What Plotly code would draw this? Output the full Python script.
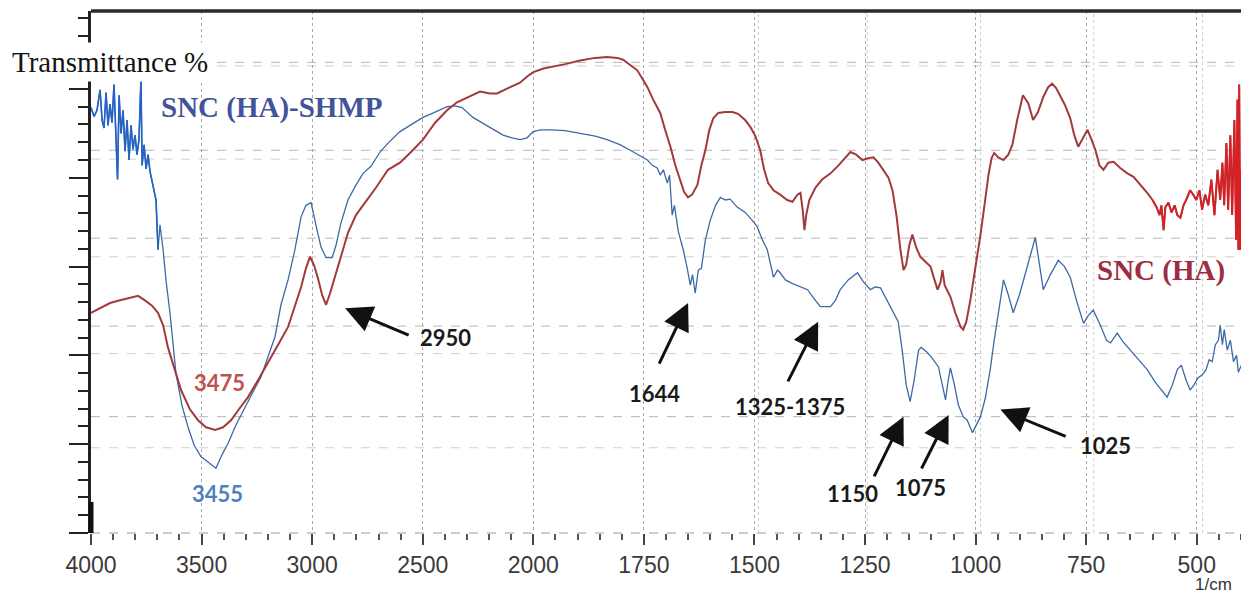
import numpy as np
import plotly.graph_objects as go

# FTIR spectra, transmittance (arbitrary %-scale) vs wavenumber (1/cm)
blue_wn = [4000, 3986, 3973, 3959, 3950, 3941, 3932, 3923, 3914, 3905, 3896, 3887, 3880, 3873,
           3864, 3855, 3846, 3837, 3828, 3819, 3810, 3801, 3792, 3783, 3774, 3769, 3760, 3751,
           3742, 3733, 3720, 3706, 3697, 3688, 3674, 3661, 3643, 3629, 3616, 3589, 3561, 3534,
           3503, 3471, 3435, 3408, 3380, 3344, 3304, 3267, 3231, 3200, 3168, 3141, 3109, 3078,
           3050, 3028, 3005, 2983, 2960, 2937, 2910, 2892, 2870, 2838, 2806, 2770, 2734, 2693,
           2657, 2603, 2548, 2499, 2444, 2390, 2354, 2322, 2273, 2232, 2196, 2137, 2096, 2060,
           2028, 2001,
           1984, 1962, 1928, 1894, 1860, 1833, 1803, 1781, 1758, 1742, 1731, 1720, 1713, 1706,
           1697, 1692, 1686, 1681, 1672, 1661, 1652, 1645, 1640, 1634, 1627, 1620, 1611, 1600,
           1588, 1577, 1566, 1555, 1539, 1521, 1505, 1494, 1482, 1471, 1457, 1448, 1442, 1430,
           1419, 1396, 1380, 1367, 1351, 1328, 1317, 1306, 1288, 1267, 1254, 1238, 1227, 1215,
           1204, 1193, 1181, 1175, 1166, 1157, 1148, 1139, 1129, 1123, 1111, 1100, 1084, 1075,
           1068, 1062, 1057, 1048, 1039, 1028, 1019, 1007, 998, 989, 978, 967, 958, 951, 944,
           937, 926, 915, 901, 888, 876, 865, 856, 847, 831, 813, 799, 786, 772, 756, 745, 734,
           718, 704, 695, 680, 666, 650, 632, 612, 594, 580, 567, 555, 544, 535, 524, 515, 506,
           497, 488, 479, 472, 465, 458, 451, 447, 442, 438, 431, 424, 417, 410, 406, 399]
blue_t = [47.9, 46.9, 47.6, 49.9, 46.5, 45.6, 49.6, 45.9, 48.3, 46.2, 50.5, 44.3, 39.8, 49.3,
          45.0, 47.6, 43.0, 46.5, 42.0, 45.9, 43.2, 44.8, 42.6, 44.3, 51.2, 41.4, 43.7, 41.0,
          42.6, 40.7, 39.2, 37.5, 31.9, 34.7, 31.9, 28.5, 24.8, 21.2, 18.0, 14.4, 11.9, 9.9,
          8.6, 8.0, 7.3, 8.8, 10.1, 12.2, 14.2, 15.9, 17.6, 19.8, 22.1, 25.7, 28.5, 31.9,
          35.6, 36.9, 37.2, 34.7, 32.2, 31.0, 31.0, 32.4, 34.9, 37.5, 39.0, 40.5, 41.3, 42.9,
          43.9, 45.2, 46.1, 46.8, 47.4, 48.0, 48.1, 47.9, 46.8, 46.2, 45.7, 44.8, 44.5, 44.3,
          44.5, 45.2,
          45.4, 45.4, 45.3, 45.0, 44.7, 44.3, 43.7, 43.1, 42.5, 42.0, 41.4, 41.1, 40.3, 40.9,
          39.4, 40.3, 35.8, 36.9, 33.9, 31.9, 29.8, 27.9, 29.1, 27.0, 29.6, 29.8, 33.0, 35.2,
          36.9, 37.8, 37.5, 37.6, 36.7, 36.1, 35.2, 34.5, 33.0, 31.9, 28.8, 29.6, 29.3, 28.5,
          28.2, 27.7, 27.4, 26.5, 25.5, 25.5, 26.2, 27.4, 28.5, 29.3, 28.3, 27.4, 27.7, 27.6,
          26.6, 25.5, 24.5, 23.8, 20.6, 16.7, 14.8, 17.2, 20.6, 20.9, 20.4, 19.8, 18.7, 16.7,
          15.0, 17.2, 18.6, 16.7, 14.4, 13.1, 12.7, 11.3, 12.2, 13.1, 15.2, 18.4, 21.7, 24.0, 26.5,
          28.5, 26.8, 24.8, 26.8, 29.3, 31.3, 33.3, 30.5, 27.4, 29.1, 30.7, 30.0, 28.8, 26.2, 23.6, 24.5, 25.1,
          23.4, 21.7, 21.4, 22.5, 21.5, 20.6, 19.5, 18.4, 17.0, 16.1, 15.3, 16.7, 18.4, 18.9, 17.2, 16.1, 16.7,
          17.5, 17.8, 18.4, 19.5, 19.3, 21.2, 21.7, 23.4, 21.2, 22.9, 20.6, 21.7, 19.3, 20.0, 18.1, 18.9]

red_wn = [4000, 3959, 3914, 3869, 3824, 3787, 3756, 3724, 3697, 3674, 3652, 3620, 3593, 3552,
          3516, 3480, 3439, 3403, 3367, 3326, 3290, 3245, 3200, 3154, 3109, 3078, 3050, 3028,
          3010, 2992, 2974, 2955, 2937, 2919, 2897, 2870, 2838, 2802, 2761, 2711, 2657, 2603,
          2553, 2499, 2444, 2390, 2345, 2300, 2241, 2196, 2164, 2114, 2060, 2028, 2000,
          1977, 1955, 1928, 1894, 1860, 1833, 1810, 1797, 1781, 1765, 1754, 1742, 1729, 1713,
          1702, 1690, 1679, 1668, 1659, 1650, 1641, 1629, 1620, 1611, 1602, 1593, 1582, 1566,
          1550, 1537, 1521, 1509, 1498, 1487, 1478, 1469, 1457, 1442, 1426, 1414, 1403, 1396,
          1391, 1387, 1383, 1376, 1362, 1347, 1328, 1310, 1295, 1283, 1270, 1256, 1243, 1231,
          1220, 1209, 1197, 1188, 1179, 1170, 1163, 1157, 1150, 1143, 1134, 1125, 1113, 1102,
          1093, 1086, 1079, 1075, 1070, 1063, 1057, 1046, 1034, 1028, 1021, 1012, 1001, 989,
          980, 971, 964, 958, 949, 937, 926, 917, 906, 893, 881, 870, 859, 847, 836, 827, 818,
          809, 798, 786, 777, 768, 756, 747, 738, 729, 720, 711, 700, 688, 673, 657, 643, 627,
          612, 600, 591, 584, 580, 575, 571, 564, 557, 550, 544, 537, 530, 524, 515, 508, 501,
          494, 488, 481, 474, 467, 460, 453, 447, 442, 438, 433, 429, 424, 420, 415, 411, 408,
          406, 404, 402, 399]
red_t = [24.8, 25.3, 25.9, 26.2, 26.5, 26.7, 26.2, 25.6, 24.8, 23.4, 20.9, 18.4, 16.1, 13.9,
         12.7, 11.9, 11.6, 11.9, 12.7, 14.1, 15.3, 17.2, 19.1, 21.2, 23.2, 25.7, 27.7, 29.8,
         31.1, 30.2, 28.7, 26.8, 25.7, 27.0, 28.8, 31.3, 33.8, 35.8, 37.2, 38.9, 40.9, 41.7,
         42.9, 44.3, 46.2, 47.6, 48.5, 49.0, 49.7, 49.5, 49.5, 50.1, 50.7, 51.4, 51.9,
         52.3, 52.5, 52.8, 53.2, 53.5, 53.6, 53.5, 53.3, 52.7, 52.1, 51.2, 50.2, 48.8, 47.3,
         45.4, 43.5, 41.4, 39.8, 38.4, 37.8, 38.1, 39.2, 41.4, 43.1, 45.4, 46.7, 47.3, 47.4,
         47.4, 47.2, 46.5, 45.7, 44.7, 43.1, 40.9, 39.4, 38.6, 38.1, 37.5, 37.3, 38.1, 38.3,
         36.4, 34.1, 35.8, 37.5, 38.9, 39.8, 40.5, 41.4, 42.3, 42.9, 42.6, 42.0, 42.2, 42.3,
         41.7, 40.9, 40.0, 38.6, 35.8, 31.9, 29.6, 30.2, 32.4, 33.6, 32.1, 31.1, 30.5, 30.0,
         28.5, 27.4, 28.3, 29.6, 27.9, 27.1, 26.6, 24.8, 23.2, 22.9, 23.8, 26.2, 29.6, 33.6,
         36.9, 40.3, 42.2, 42.8, 42.3, 42.0, 42.6, 43.7, 46.5, 49.3, 48.4, 46.5, 47.4, 49.1, 50.2, 50.6, 50.1,
         49.3, 48.2, 46.7, 44.8, 43.5, 44.5, 45.4, 44.3, 43.1, 41.4, 40.9, 41.7, 41.8, 41.1, 40.5, 40.1, 39.2,
         38.3, 37.5, 36.7, 35.8, 36.9, 34.1, 36.7, 37.2, 36.1, 36.9, 35.8, 35.5, 36.9, 37.5, 38.6, 38.1, 37.5,
         38.6, 36.4, 38.1, 36.9, 39.8, 35.8, 40.9, 37.5, 41.7, 36.9, 43.9, 36.4, 44.8, 35.8, 46.5, 33.0, 48.8,
         31.9, 50.5, 31.9, 40.9]

tick_wn = [4000, 3500, 3000, 2500, 2000, 1750, 1500, 1250, 1000, 750, 500]

# peak labels: (text, x, y, colour) and arrows: (tip_wn, tip_t, tail_wn, tail_t)
peak_labels = [("3475", 3421, 17.0, "#c0504d"), ("3455", 3430, 4.4, "#4f81bd"),
               ("2950", 2399, 22.0, "#1a1a1a"), ("1644", 1726, 15.7, "#1a1a1a"),
               ("1325-1375", 1419, 14.3, "#1a1a1a"), ("1150", 1278, 4.5, "#1a1a1a"),
               ("1075", 1124, 5.1, "#1a1a1a"), ("1025", 707, 9.9, "#1a1a1a")]
arrows = [(2851, 25.3, 2557, 22.2), (1650, 25.9, 1717, 18.9), (1356, 23.8, 1426, 16.9),
          (1163, 13.1, 1231, 6.2), (1061, 13.3, 1124, 7.1), (944, 13.9, 793, 10.8)]


def to_axis(wn):
    """Split wavenumber scale: 4000-2000 compressed 2x, 2000-400 at full scale."""
    wn = np.asarray(wn, dtype=float)
    return np.where(wn >= 2000, (4000 - wn) / 2.0, 1000 + (2000 - wn))


fig = go.Figure()
bw, bt = np.array(blue_wn), np.array(blue_t)
rw, rt = np.array(red_wn), np.array(red_t)

fig.add_trace(go.Scatter(x=to_axis(bw), y=bt, mode="lines",
                         line=dict(color="#3d6aa3", width=1.3), showlegend=False))
noisy = bw >= 3690
fig.add_trace(go.Scatter(x=to_axis(bw[noisy]), y=bt[noisy], mode="lines",
                         line=dict(color="#2463c4", width=1.6), showlegend=False))
fig.add_trace(go.Scatter(x=to_axis(rw), y=rt, mode="lines",
                         line=dict(color="#a33a3a", width=2), showlegend=False))
tail = rw <= 600
fig.add_trace(go.Scatter(x=to_axis(rw[tail]), y=rt[tail], mode="lines",
                         line=dict(color="#d91f24", width=1.6), showlegend=False))

shapes = []
# horizontal dashed grid (two offset sets)
for yv in [53.0, 43.1, 33.2, 23.3, 13.1]:
    shapes.append(dict(type="line", xref="paper", x0=0, x1=1, yref="y", y0=yv, y1=yv,
                       line=dict(color="#b5b5b5", width=1, dash="dash"), layer="below"))
for yv in [52.6, 42.1, 31.1, 20.2, 9.6]:
    shapes.append(dict(type="line", xref="paper", x0=0, x1=1, yref="y", y0=yv, y1=yv,
                       line=dict(color="#d0d0d0", width=1, dash="dash"), layer="below"))
for wv in [1491, 1245, 989, 733, 487]:
    xv = float(to_axis(wv))
    shapes.append(dict(type="line", xref="x", x0=xv, x1=xv, yref="paper", y0=0, y1=1,
                       line=dict(color="#cccccc", width=1, dash="dot"), layer="below"))
# bottom dashed baseline, heavy top frame and the thick foot of the left axis
shapes.append(dict(type="line", xref="paper", x0=0, x1=1, yref="paper", y0=0, y1=0,
                   line=dict(color="#bdbdbd", width=1.5, dash="dash"), layer="below"))
shapes.append(dict(type="line", xref="paper", x0=0, x1=1, yref="paper", y0=1, y1=1,
                   line=dict(color="#2a2a2a", width=3.5)))
shapes.append(dict(type="line", xref="paper", x0=0, x1=0, yref="y", y0=0, y1=3.5,
                   line=dict(color="#111111", width=5)))

annotations = []
annotations.append(dict(text="Transmittance %", xref="paper", yref="y", x=-0.072, y=53.0,
                        xanchor="left", yanchor="middle", showarrow=False, bgcolor="white",
                        borderpad=3,
                        font=dict(family="Liberation Serif", size=29, color="#141414")))
annotations.append(dict(text="<b>SNC (HA)-SHMP</b>", x=float(to_axis(3181)), y=47.9,
                        xref="x", yref="y", showarrow=False,
                        font=dict(family="Liberation Serif", size=29, color="#43539b")))
annotations.append(dict(text="<b>SNC (HA)</b>", x=float(to_axis(582)), y=29.6,
                        xref="x", yref="y", showarrow=False,
                        font=dict(family="Liberation Serif", size=29, color="#9d2c44")))
for txt, wv, tv, col in peak_labels:
    annotations.append(dict(text=f"<b>{txt}</b>", x=float(to_axis(wv)), y=tv, xref="x", yref="y",
                            showarrow=False, font=dict(family="Lato", size=22, color=col)))
for tw, tt, aw, at in arrows:
    annotations.append(dict(text="", x=float(to_axis(tw)), y=tt, ax=float(to_axis(aw)), ay=at,
                            xref="x", yref="y", axref="x", ayref="y", showarrow=True,
                            arrowhead=2, arrowsize=1.8, arrowwidth=3, arrowcolor="#111111"))
annotations.append(dict(text="1/cm", xref="paper", yref="paper", x=0.994, y=-0.098,
                        xanchor="right", yanchor="middle", showarrow=False,
                        font=dict(family="Liberation Sans", size=17, color="#333333")))

fig.update_layout(
    width=1241, height=596,
    margin=dict(l=91, r=0, t=11, b=63),
    paper_bgcolor="white", plot_bgcolor="white",
    shapes=shapes, annotations=annotations,
    xaxis=dict(range=[0, 2600], tickmode="array", tickvals=to_axis(tick_wn).tolist(),
               ticktext=[str(t) for t in tick_wn], ticks="outside", ticklen=11, tickwidth=2,
               tickcolor="#444444", showgrid=True, gridcolor="#a8a8a8", griddash="dot",
               gridwidth=1, zeroline=False, showline=False,
               tickfont=dict(family="Liberation Sans", size=23, color="#3a3a3a"),
               minor=dict(tickmode="linear", tick0=0, dtick=50, ticks="outside", ticklen=6,
                          tickwidth=2, tickcolor="#555555", showgrid=False)),
    yaxis=dict(range=[0, 58.78], tickmode="linear", tick0=0, dtick=10, ticks="outside",
               ticklen=19, tickwidth=2, tickcolor="#222222", showticklabels=False,
               showgrid=False, zeroline=False, showline=True, linecolor="#222222", linewidth=3,
               minor=dict(tickmode="linear", tick0=0, dtick=2, ticks="outside", ticklen=10,
                          tickwidth=2, tickcolor="#222222", showgrid=False)),
)

fig.write_html("out.html")
